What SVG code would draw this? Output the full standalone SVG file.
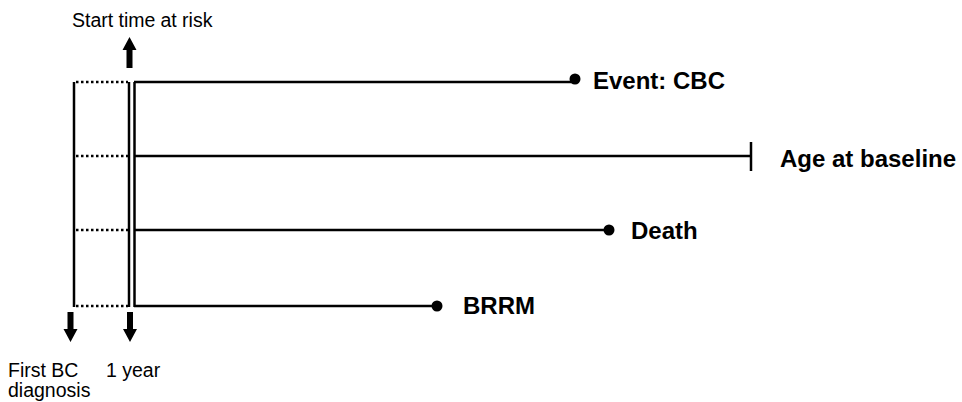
<svg xmlns="http://www.w3.org/2000/svg" width="962" height="402" viewBox="0 0 962 402">
<defs>
<style>
.ln{stroke:#000;stroke-width:2.5;fill:none}
.dot{stroke:#000;stroke-width:2.5;stroke-dasharray:2.5 2.5;fill:none}
.lab{font-family:"Liberation Sans",Arial,sans-serif;font-weight:bold;font-size:24px;fill:#000}
.small{font-family:"Liberation Sans",Arial,sans-serif;font-size:19.5px;fill:#000}
.arr{fill:#000}
</style>
</defs>
<rect width="962" height="402" fill="#fff"/>
<g id="connectors">
<line class="ln" x1="74" y1="82" x2="74" y2="307"/>
<line class="ln" x1="129" y1="82" x2="129" y2="307"/>
<line class="ln" x1="134.5" y1="82" x2="134.5" y2="307"/>
<line class="dot" x1="76" y1="82" x2="128" y2="82"/>
<line class="dot" x1="76" y1="156" x2="128" y2="156"/>
<line class="dot" x1="76" y1="230" x2="128" y2="230"/>
<line class="dot" x1="76" y1="306" x2="128" y2="306"/>
<line class="ln" x1="134" y1="82" x2="575" y2="82"/>
<line class="ln" x1="134" y1="156" x2="751" y2="156"/>
<line class="ln" x1="751" y1="142" x2="751" y2="171"/>
<line class="ln" x1="134" y1="230" x2="609" y2="230"/>
<line class="ln" x1="134" y1="306" x2="437" y2="306"/>
<circle cx="575" cy="79" r="5.5" class="arr"/>
<circle cx="609" cy="230" r="5.5" class="arr"/>
<circle cx="437" cy="306" r="5.5" class="arr"/>
<path class="arr" d="M126.5 68 V50 H122.5 L129.5 37 L136.5 50 H132.5 V68 Z"/>
<path class="arr" d="M67.5 312 V329 H63.5 L70.5 342 L77.5 329 H73.5 V312 Z"/>
<path class="arr" d="M127 312 V329 H123 L130 342 L137 329 H133 V312 Z"/>
</g>
<g id="start"><text class="small" x="72" y="27">Start time<tspan dx="5">at risk</tspan></text></g>
<g id="first"><text class="small" x="8" y="377">First BC</text><text class="small" x="8" y="397">diagnosis</text></g>
<g id="year"><text class="small" x="106" y="377">1 year</text></g>
<g id="cbc"><text class="lab" x="593" y="89">Event: CBC</text></g>
<g id="age"><text class="lab" x="780" y="167">Age at baseline</text></g>
<g id="death"><text class="lab" x="631" y="239">Death</text></g>
<g id="brrm"><text class="lab" x="463" y="314">BRRM</text></g>
</svg>
